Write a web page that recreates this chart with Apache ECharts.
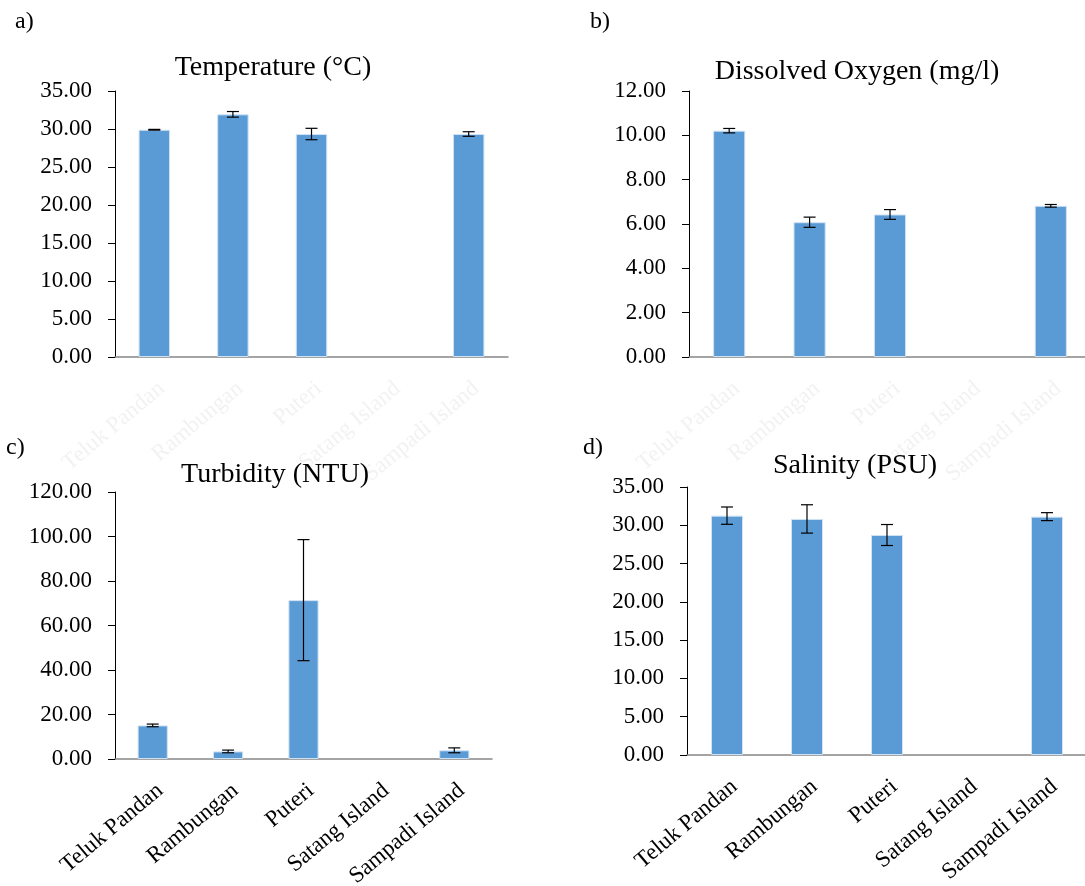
<!DOCTYPE html>
<html>
<head>
<meta charset="utf-8">
<script src="https://cdn.jsdelivr.net/npm/echarts@6/dist/echarts.min.js"></script>
<style>
html,body{margin:0;padding:0;background:#fff;}
#chart{width:1085px;height:886px;}
</style>
</head>
<body>
<div id="chart"></div>
<script>
const categories = ['Teluk Pandan', 'Rambungan', 'Puteri', 'Satang Island', 'Sampadi Island'];

const tempMean = [29.90, 31.93, 29.34, null, 29.34];
const tempErr  = [0.05, 0.37, 0.75, null, 0.30];

const doMean = [10.21, 6.08, 6.43, null, 6.82];
const doErr  = [0.10, 0.23, 0.22, null, 0.06];

const turbMean = [15.1, 3.4, 71.4, null, 3.9];
const turbErr  = [0.6, 0.6, 27.2, null, 1.1];

const salMean = [31.26, 30.83, 28.73, null, 31.13];
const salErr  = [1.13, 1.85, 1.37, null, 0.52];

const panelTitles = ['Temperature (°C)', 'Dissolved Oxygen (mg/l)', 'Turbidity (NTU)', 'Salinity (PSU)'];
const panelLetters = ['a)', 'b)', 'c)', 'd)'];
const yMax = [35, 12, 120, 35];
const yStep = [5, 2, 20, 5];

const FONT = '"Liberation Serif", "Times New Roman", serif';
const means = [tempMean, doMean, turbMean, salMean];
const errs = [tempErr, doErr, turbErr, salErr];

const grids = [
  {left: 115, top: 91, width: 393, height: 266, outerBoundsMode: 'none', containLabel: false},
  {left: 689, top: 91, width: 402, height: 266, outerBoundsMode: 'none', containLabel: false},
  {left: 115, top: 492, width: 377, height: 267, outerBoundsMode: 'none', containLabel: false},
  {left: 687, top: 487, width: 400, height: 268, outerBoundsMode: 'none', containLabel: false}
];
const labelColors = ['#f2f2f2', '#f2f2f2', '#000', '#000'];
const titlePos = [[273, 68], [857, 72], [275, 475], [855, 466]];
const letterPos = [[15, 22], [590, 22], [6, 448], [583, 448]];

const xAxes = [], yAxes = [], series = [], graphics = [];
for (let i = 0; i < 4; i++) {
  xAxes.push({
    type: 'category', gridIndex: i, data: categories,
    axisLine: {lineStyle: {color: '#868686', width: 1.5}},
    axisTick: {show: false},
    axisLabel: {rotate: 40, interval: 0, margin: 20, verticalAlign: 'top', color: labelColors[i], fontFamily: FONT, fontSize: 23}
  });
  yAxes.push({
    type: 'value', gridIndex: i, min: 0, max: yMax[i], interval: yStep[i],
    splitLine: {show: false},
    axisLine: {show: true, lineStyle: {color: '#000', width: 1}},
    axisTick: {show: true, length: 7, lineStyle: {color: '#000'}},
    axisLabel: {margin: 23, color: '#000', fontFamily: FONT, fontSize: 23,
      formatter: v => v.toFixed(2)}
  });
  series.push({
    type: 'bar', xAxisIndex: i, yAxisIndex: i, data: means[i], barWidth: '40%',
    itemStyle: {color: '#5b9bd5', borderColor: '#cfe2f3', borderWidth: 1}
  });
  const errData = [];
  means[i].forEach((m, k) => {
    if (m != null && errs[i][k] != null) errData.push([k, m - errs[i][k], m + errs[i][k]]);
  });
  series.push({
    type: 'custom', xAxisIndex: i, yAxisIndex: i, data: errData,
    encode: {x: 0, y: [1, 2]}, z: 10,
    renderItem: function (params, api) {
      const x = api.value(0);
      const lo = api.coord([x, api.value(1)]);
      const hi = api.coord([x, api.value(2)]);
      const hw = 6;
      const st = {stroke: '#000', lineWidth: 1.2};
      return {type: 'group', children: [
        {type: 'line', shape: {x1: lo[0], y1: lo[1], x2: hi[0], y2: hi[1]}, style: st},
        {type: 'line', shape: {x1: lo[0] - hw, y1: lo[1], x2: lo[0] + hw, y2: lo[1]}, style: st},
        {type: 'line', shape: {x1: hi[0] - hw, y1: hi[1], x2: hi[0] + hw, y2: hi[1]}, style: st}
      ]};
    }
  });
  graphics.push({
    type: 'text', x: titlePos[i][0], y: titlePos[i][1], z: 100,
    style: {text: panelTitles[i], font: '28px ' + FONT, fill: '#000', textAlign: 'center', textVerticalAlign: 'middle'}
  });
  graphics.push({
    type: 'text', x: letterPos[i][0], y: letterPos[i][1], z: 100,
    style: {text: panelLetters[i], font: '24px ' + FONT, fill: '#000', textAlign: 'left', textVerticalAlign: 'middle'}
  });
}

const chart = echarts.init(document.getElementById('chart'), null, {renderer: 'canvas'});
chart.setOption({
  backgroundColor: '#fff',
  animation: false,
  grid: grids,
  xAxis: xAxes,
  yAxis: yAxes,
  series: series,
  graphic: graphics
});
</script>
</body>
</html>
